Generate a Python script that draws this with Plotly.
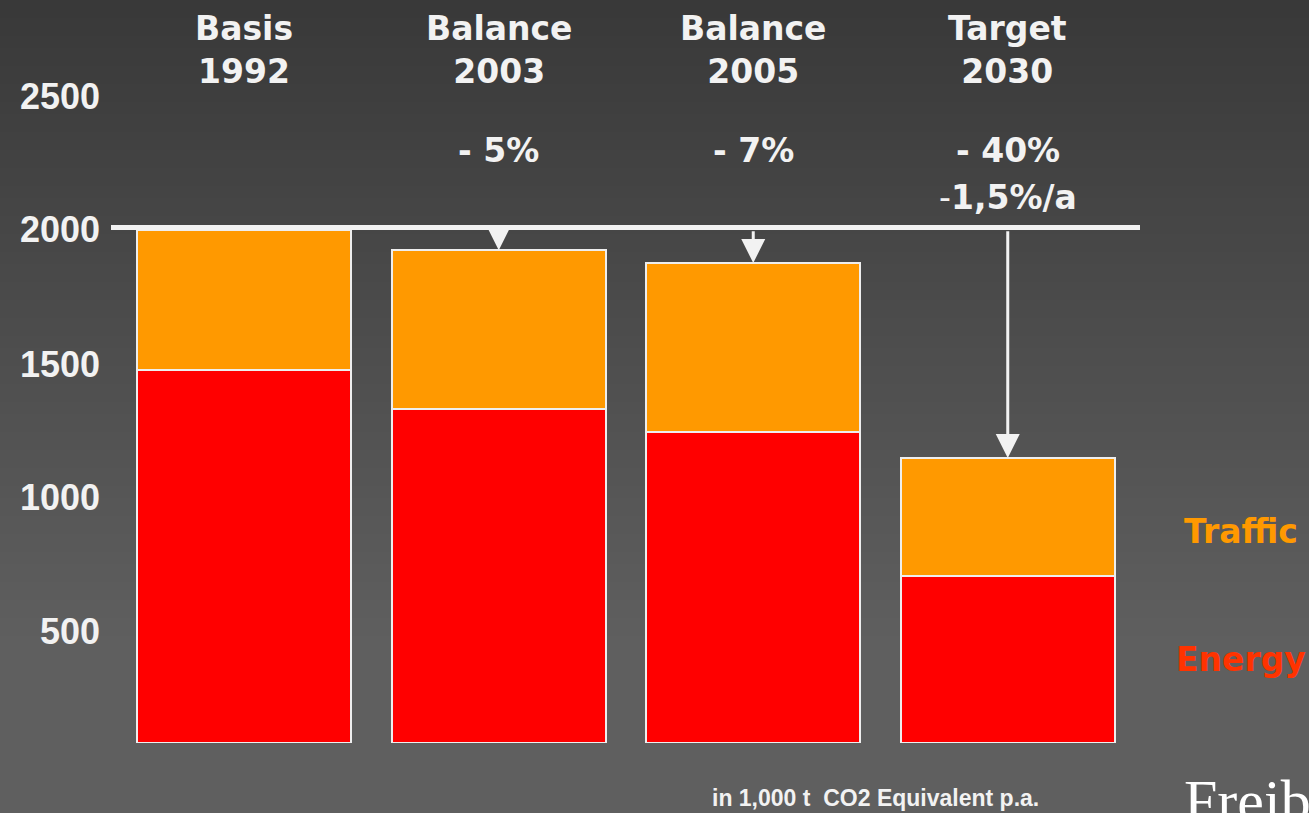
import plotly.graph_objects as go

# ---------------- data ----------------
categories = ["Basis 1992", "Balance 2003", "Balance 2005", "Target 2030"]
energy = [1455, 1300, 1210, 650]
traffic = [545, 620, 660, 460]
reduction_labels = ["", "- 5%", "- 7%", "- 40%"]
target_rate_label = "-1,5%/a"
baseline = 2000
tick_labels = ["500", "1000", "1500", "2000", "2500"]
tick_positions = [433, 955, 1474, 2000, 2518]
unit_note = "in 1,000 t\u00a0 CO2 Equivalent p.a."

# ---------------- styling ----------------
W, H = 1309, 813
ML, MR, MT, MB = 117, 174, 50, 70
YMAX = 2700
TXT = "#f2f2f2"
HEAD_FONT = dict(family="DejaVu Sans", size=33, color=TXT)

totals = [e + t for e, t in zip(energy, traffic)]
idx = list(range(len(categories)))

fig = go.Figure()
fig.add_trace(go.Bar(x=idx, y=energy, name="Energy", marker=dict(color="#ff0000", line=dict(color="#eeeeee", width=2)),
                     width=0.84, showlegend=False, hoverinfo="skip"))
fig.add_trace(go.Bar(x=idx, y=traffic, name="Traffic", marker=dict(color="#ff9900", line=dict(color="#eeeeee", width=2)),
                     width=0.84, showlegend=False, hoverinfo="skip"))

# background gradient (bands in paper coordinates)
plot_h = H - MT - MB
plot_w = W - ML - MR
def py(px):
    return (H - MB - px) / plot_h
def px_x(px):
    return (px - ML) / plot_w

shapes = []
step = 6
for y0 in range(0, H, step):
    c = int(min(57 + 0.06 * (y0 + step / 2), 95))
    shapes.append(dict(type="rect", xref="paper", yref="paper", layer="below",
                       x0=px_x(-2), x1=px_x(W + 2), y0=py(y0 + step + 0.5), y1=py(y0),
                       fillcolor=f"rgb({c},{c},{c})", line=dict(width=0)))

# baseline line
shapes.append(dict(type="line", xref="paper", yref="y", layer="above",
                   x0=px_x(111), x1=px_x(1140), y0=baseline + 8, y1=baseline + 8,
                   line=dict(color=TXT, width=5)))

annotations = []
# headings
for i, cat in enumerate(categories):
    w1, w2 = cat.split(" ")
    annotations.append(dict(x=i, y=YMAX, xref="x", yref="y", showarrow=False,
                            xanchor="center", yanchor="middle",
                            text=f"<b>{w1}</b><br><b>{w2}</b>", font=HEAD_FONT))
    if reduction_labels[i]:
        annotations.append(dict(x=i, y=2310, xref="x", yref="y", showarrow=False,
                                xanchor="center", yanchor="middle",
                                text=f"<b>{reduction_labels[i]}</b>", font=HEAD_FONT))
annotations.append(dict(x=3, y=2127, xref="x", yref="y", showarrow=False, xanchor="center", yanchor="middle",
                        text="-<b>" + target_rate_label[1:] + "</b>", font=HEAD_FONT))

# arrows from baseline to bar tops
for i in idx[1:]:
    annotations.append(dict(x=i, y=totals[i], ax=i, ay=baseline, xref="x", yref="y", axref="x", ayref="y",
                            showarrow=True, arrowhead=2, arrowsize=1.6, arrowwidth=3, arrowcolor=TXT, text=""))

# series labels
annotations.append(dict(x=px_x(1241), y=py(531), xref="paper", yref="paper", showarrow=False,
                        xanchor="center", yanchor="middle",
                        text="<b>Traffic</b>", font=dict(family="DejaVu Sans", size=33, color="#ff9900")))
annotations.append(dict(x=px_x(1241), y=py(659), xref="paper", yref="paper", showarrow=False,
                        xanchor="center", yanchor="middle",
                        text="<b>Energy</b>", font=dict(family="DejaVu Sans", size=33, color="#ff3300")))
# unit note
annotations.append(dict(x=px_x(875), y=py(798), xref="paper", yref="paper", showarrow=False,
                        xanchor="center", yanchor="middle",
                        text="<b>" + unit_note + "</b>", font=dict(family="Liberation Sans", size=23, color=TXT)))
# cut-off logo text
annotations.append(dict(x=px_x(1182), y=py(766), xref="paper", yref="paper", showarrow=False,
                        xanchor="left", yanchor="top", text="Freiburg",
                        font=dict(family="Liberation Serif", size=60, color="#ffffff")))

fig.update_layout(
    width=W, height=H,
    margin=dict(l=ML, r=MR, t=MT, b=MB, pad=0),
    paper_bgcolor="#5f5f5f", plot_bgcolor="rgba(0,0,0,0)",
    barmode="stack", bargap=0.16,
    shapes=shapes, annotations=annotations,
    xaxis=dict(range=[-0.5, 3.5], showticklabels=False, showgrid=False, zeroline=False, showline=False,
               fixedrange=True),
    yaxis=dict(range=[0, YMAX], showgrid=False, zeroline=False, showline=False, ticks="",
               tickvals=tick_positions, ticktext=tick_labels, ticklabelstandoff=16,
               tickfont=dict(family="Liberation Sans", size=36, color=TXT, weight="bold"),
               fixedrange=True),
)

fig.write_html("out.html", config={"displayModeBar": False},
               post_script="document.body.style.margin='0';document.body.style.overflow='hidden';")
